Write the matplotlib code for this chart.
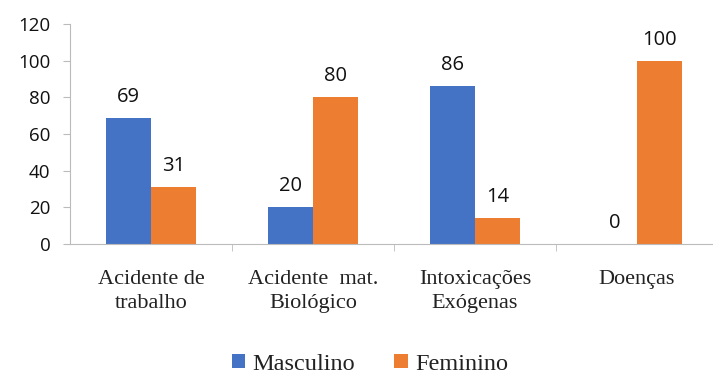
import numpy as np
import matplotlib.pyplot as plt
from matplotlib.ticker import FixedLocator

categorias = ['Acidente de\ntrabalho', 'Acidente  mat.\nBiológico',
              'Intoxicações\nExógenas', 'Doenças']
masculino = [69, 20, 86, 0]
feminino = [31, 80, 14, 100]

azul = '#4472C4'
laranja = '#ED7D31'

fig = plt.figure(figsize=(7.13, 3.78), dpi=100)
ax = fig.add_axes([70/713, 134/378, 648/713, 220/378])

x = np.arange(len(categorias))
w = 0.28
b1 = ax.bar(x - w/2, masculino, w, color=azul, label='Masculino')
b2 = ax.bar(x + w/2, feminino, w, color=laranja, label='Feminino')

for bars in (b1, b2):
    for b in bars:
        h = b.get_height()
        ax.text(b.get_x() + b.get_width()/2, h + 6, f'{h:g}',
                ha='center', va='bottom', fontsize=14.5, family='Open Sans',
                color='#111111')

ax.set_xlim(-0.5, 3.5)
ax.set_ylim(0, 120)
ax.set_yticks(range(0, 121, 20))
ax.tick_params(axis='y', labelsize=13.5, length=5, color='#bbbbbb', pad=9,
               labelcolor='#111111')
for t in ax.get_yticklabels():
    t.set_family('Open Sans')

ax.set_xticks(x)
ax.set_xticklabels(categorias, family='Liberation Serif', fontsize=16,
                   color='#222222', linespacing=1.3)
ax.tick_params(axis='x', length=0, pad=19)
ax.xaxis.set_minor_locator(FixedLocator([0.5, 1.5, 2.5]))
ax.tick_params(axis='x', which='minor', length=5, color='#bbbbbb')

for s in ['top', 'right']:
    ax.spines[s].set_visible(False)
ax.spines['left'].set_color('#bbbbbb')
ax.spines['bottom'].set_color('#bbbbbb')

fig.legend(loc='center', bbox_to_anchor=(370/713, 1 - 364/378), ncol=2,
           frameon=False, prop={'family': 'Liberation Serif', 'size': 17.5},
           handlelength=0.55, handleheight=0.55, handletextpad=0.3,
           columnspacing=1.6, labelcolor='#222222', borderpad=0.2)

plt.savefig('out.png', dpi=100)
